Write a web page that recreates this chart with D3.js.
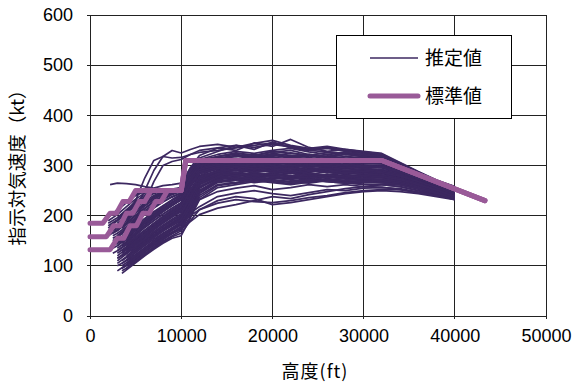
<!DOCTYPE html>
<html>
<head>
<meta charset="utf-8">
<script src="https://cdn.jsdelivr.net/npm/d3@7"></script>
<style>
  body { margin: 0; background: #fff; }
  svg text { fill: #000; }
</style>
</head>
<body>
<svg id="chart" width="576" height="382"></svg>
<script>
// Axis ticks
const altTicks = [0, 10000, 20000, 30000, 40000, 50000];
const ktTicks = [0, 100, 200, 300, 400, 500, 600];

// Titles and legend
const xTitle = "高度(ft)";
const yTitle = "指示対気速度（kt）";
const legendLabels = ["推定値", "標準値"];

// Altitude grid (ft) on which every estimated trace is sampled after its first point
const gridFt = [2000, 3000, 4000, 5000, 6000, 7000, 8000, 9000, 10000, 11000, 12000,
  14000, 16000, 18000, 20000, 22000, 24000, 26000, 28000, 30000,
  32000, 34000, 36000, 38000, 40000];

// First altitude of each estimated trace (ft)
const estStartFt = [1500, 2000, 2000, 2500, 2500, 3000, 3000, 3000, 3500, 3500,
  3500, 4000, 4000, 4500, 2000, 2500, 3000, 3000, 3500, 4000,
  4000, 4500, 2500, 3000, 3500, 4000, 2000, 3000, 3500, 4500,
  3500, 3000, 2200, 3500, 4000, 4500, 3000, 2500, 3000, 4000,
  3500, 4500,
  2000, 2500, 3000, 3000, 3500, 4000, 2000, 2500, 3000, 3500,
  4000, 4500, 3000, 3500, 4000, 2000, 2500, 3500, 2000, 3000,
  4500, 3500, 2500, 4000, 3000, 4000, 3500,
  2500, 3000, 4000, 3500, 2500, 4500, 3000, 4000];

// Estimated IAS (kt): value at the start altitude, then at each following grid altitude
const estKt = [
  [190, 196, 212, 228, 242, 250, 252, 248, 251, 254, 285, 300, 305, 311, 318, 315, 320, 316, 312, 318, 314, 312, 297, 281, 266, 250],
  [175, 190, 206, 222, 236, 246, 250, 248, 252, 278, 296, 305, 300, 308, 311, 306, 309, 304, 307, 305, 303, 290, 276, 262, 247],
  [160, 172, 186, 201, 214, 228, 240, 247, 250, 272, 290, 298, 302, 297, 301, 305, 300, 296, 300, 298, 296, 285, 272, 258, 244],
  [150, 156, 172, 188, 202, 216, 228, 238, 245, 268, 285, 292, 296, 290, 295, 293, 289, 294, 290, 288, 287, 280, 268, 255, 241],
  [135, 140, 155, 170, 184, 197, 210, 222, 232, 262, 280, 288, 284, 291, 287, 285, 290, 286, 283, 287, 284, 276, 265, 252, 238],
  [125, 138, 152, 166, 180, 193, 205, 216, 240, 268, 282, 278, 285, 281, 279, 283, 280, 277, 280, 278, 272, 261, 250, 236],
  [140, 155, 170, 186, 200, 213, 225, 236, 262, 284, 294, 290, 296, 300, 297, 292, 298, 294, 291, 290, 283, 271, 259, 245],
  [110, 124, 138, 151, 165, 178, 190, 200, 225, 258, 272, 276, 270, 274, 278, 273, 270, 275, 272, 270, 266, 257, 247, 235],
  [100, 106, 120, 134, 148, 161, 173, 185, 215, 250, 268, 272, 266, 270, 267, 271, 268, 265, 268, 266, 262, 254, 244, 233],
  [120, 128, 143, 158, 172, 186, 199, 210, 240, 270, 285, 281, 287, 290, 286, 282, 288, 285, 283, 281, 275, 265, 253, 240],
  [90, 95, 112, 128, 143, 156, 167, 178, 205, 240, 262, 266, 271, 268, 264, 269, 272, 268, 270, 268, 264, 256, 246, 236],
  [110, 122, 136, 150, 163, 175, 188, 222, 262, 280, 285, 279, 283, 288, 284, 280, 286, 282, 280, 274, 264, 252, 239],
  [95, 108, 122, 136, 149, 160, 170, 198, 236, 260, 265, 270, 266, 262, 267, 271, 266, 263, 262, 258, 250, 241, 232],
  [125, 130, 145, 160, 174, 186, 198, 232, 270, 290, 294, 288, 292, 296, 291, 295, 290, 293, 290, 282, 270, 257, 243],
  [200, 210, 226, 240, 248, 251, 249, 252, 255, 288, 305, 312, 318, 314, 320, 316, 322, 318, 314, 317, 315, 299, 282, 267, 252],
  [185, 190, 205, 220, 234, 244, 250, 252, 250, 283, 302, 308, 304, 310, 306, 312, 308, 305, 310, 307, 306, 294, 279, 264, 250],
  [170, 185, 200, 215, 228, 240, 248, 252, 280, 298, 303, 299, 305, 301, 297, 303, 300, 296, 300, 298, 289, 275, 261, 246],
  [195, 210, 225, 238, 247, 250, 253, 256, 290, 310, 318, 322, 316, 324, 320, 317, 322, 318, 315, 316, 299, 283, 268, 254],
  [160, 166, 180, 194, 207, 219, 230, 240, 270, 292, 300, 296, 302, 298, 294, 300, 297, 293, 297, 295, 287, 274, 260, 245],
  [150, 165, 180, 194, 208, 221, 233, 265, 288, 296, 292, 298, 295, 291, 296, 293, 290, 294, 292, 285, 272, 259, 244],
  [175, 190, 205, 220, 233, 244, 250, 280, 300, 306, 310, 304, 308, 313, 309, 305, 309, 306, 305, 296, 280, 265, 250],
  [160, 165, 180, 195, 208, 220, 232, 264, 290, 300, 305, 300, 304, 308, 303, 299, 304, 301, 300, 290, 277, 262, 247],
  [145, 150, 163, 176, 190, 203, 215, 226, 236, 266, 286, 296, 300, 294, 298, 302, 297, 301, 296, 299, 297, 288, 275, 261, 246],
  [130, 142, 156, 170, 183, 196, 208, 220, 252, 276, 290, 286, 292, 288, 284, 290, 287, 283, 286, 284, 278, 267, 255, 241],
  [110, 117, 132, 146, 160, 173, 185, 196, 228, 262, 278, 283, 277, 281, 285, 281, 277, 282, 279, 277, 271, 262, 251, 238],
  [120, 134, 148, 162, 175, 187, 198, 232, 270, 286, 291, 287, 293, 290, 286, 291, 288, 285, 284, 278, 268, 256, 242],
  [185, 196, 212, 228, 241, 249, 251, 250, 253, 286, 304, 310, 314, 309, 316, 312, 308, 313, 310, 306, 308, 296, 281, 266, 251],
  [150, 165, 180, 194, 208, 220, 232, 242, 273, 294, 301, 306, 302, 307, 303, 299, 304, 301, 298, 299, 291, 277, 263, 248],
  [140, 147, 161, 176, 190, 203, 215, 226, 258, 284, 294, 290, 296, 292, 288, 294, 291, 287, 291, 289, 282, 270, 257, 243],
  [140, 146, 160, 174, 188, 201, 213, 250, 280, 294, 298, 293, 297, 300, 295, 292, 297, 294, 292, 284, 272, 258, 244],
  [85, 92, 106, 120, 133, 145, 155, 160, 195, 232, 256, 262, 268, 272, 268, 265, 270, 266, 262, 262, 258, 250, 242, 234],
  [100, 110, 122, 135, 147, 158, 166, 172, 205, 245, 268, 274, 270, 276, 272, 268, 274, 270, 267, 266, 262, 253, 244, 234],
  [262, 265, 264, 262, 258, 255, 260, 262, 265, 295, 310, 318, 325, 320, 328, 324, 320, 326, 322, 318, 318, 300, 283, 268, 255],
  [200, 205, 230, 275, 310, 318, 315, 316, 322, 326, 330, 335, 340, 345, 338, 332, 336, 330, 326, 322, 305, 287, 270, 258],
  [190, 215, 250, 290, 318, 330, 325, 332, 338, 342, 336, 344, 350, 340, 334, 338, 332, 328, 324, 306, 288, 271, 258],
  [185, 195, 225, 268, 300, 308, 312, 322, 330, 335, 340, 336, 342, 337, 330, 334, 328, 324, 320, 303, 285, 269, 256],
  [180, 195, 210, 224, 236, 245, 250, 254, 295, 320, 335, 330, 345, 338, 352, 336, 328, 332, 327, 323, 304, 286, 270, 256],
  [170, 175, 190, 206, 220, 233, 244, 251, 255, 290, 315, 328, 340, 332, 347, 335, 330, 327, 324, 322, 318, 302, 284, 268, 253],
  [115, 126, 138, 150, 160, 170, 180, 190, 200, 212, 225, 232, 228, 226, 230, 236, 240, 246, 250, 252, 252, 246, 240, 233],
  [100, 112, 124, 136, 147, 158, 165, 190, 212, 230, 238, 234, 222, 226, 232, 238, 244, 248, 250, 248, 244, 238, 232],
  [105, 112, 126, 140, 153, 165, 176, 186, 205, 218, 238, 245, 250, 244, 240, 246, 252, 250, 255, 256, 254, 247, 240],
  [130, 135, 148, 160, 172, 183, 194, 210, 232, 248, 255, 260, 252, 256, 262, 258, 262, 258, 257, 252, 246, 240, 234],
  [170, 182, 196, 210, 224, 236, 246, 250, 251, 276, 294, 302, 306, 300, 305, 309, 303, 307, 302, 305, 304, 292, 278, 263, 248],
  [160, 165, 178, 193, 207, 220, 232, 242, 249, 274, 292, 300, 296, 303, 307, 301, 298, 303, 299, 296, 297, 288, 274, 260, 245],
  [145, 160, 175, 190, 203, 215, 227, 238, 266, 288, 298, 302, 297, 293, 299, 304, 298, 302, 298, 296, 286, 273, 259, 244],
  [120, 134, 148, 162, 175, 188, 200, 210, 238, 266, 280, 284, 279, 285, 289, 284, 280, 285, 282, 280, 274, 264, 253, 240],
  [130, 136, 150, 165, 178, 191, 203, 214, 246, 276, 288, 292, 286, 290, 285, 291, 295, 289, 286, 286, 279, 268, 256, 242],
  [135, 150, 164, 178, 191, 203, 215, 248, 278, 290, 286, 292, 296, 290, 287, 292, 296, 290, 289, 281, 269, 256, 242],
  [190, 202, 218, 233, 245, 250, 252, 249, 252, 284, 303, 312, 308, 315, 311, 318, 313, 309, 314, 311, 310, 297, 281, 266, 251],
  [175, 180, 195, 210, 225, 238, 247, 251, 253, 285, 305, 315, 320, 316, 322, 317, 313, 319, 315, 312, 312, 298, 282, 267, 252],
  [160, 175, 190, 205, 219, 232, 243, 250, 282, 305, 316, 312, 318, 322, 316, 320, 316, 313, 318, 314, 299, 283, 268, 253],
  [150, 157, 172, 187, 201, 214, 226, 236, 268, 293, 305, 310, 306, 312, 308, 304, 310, 306, 303, 303, 293, 278, 263, 248],
  [140, 155, 170, 184, 197, 210, 222, 258, 286, 298, 303, 308, 302, 306, 300, 305, 301, 298, 298, 288, 275, 261, 246],
  [150, 155, 170, 185, 199, 212, 224, 258, 284, 296, 300, 296, 301, 305, 299, 303, 298, 301, 298, 289, 276, 262, 247],
  [105, 118, 132, 145, 158, 170, 182, 192, 222, 256, 274, 278, 283, 278, 274, 279, 283, 277, 280, 276, 270, 261, 250, 238],
  [95, 102, 117, 132, 146, 159, 171, 182, 212, 248, 270, 266, 272, 276, 271, 267, 273, 270, 266, 268, 263, 255, 245, 235],
  [105, 118, 132, 146, 159, 171, 182, 214, 254, 276, 281, 276, 280, 284, 279, 275, 281, 277, 276, 270, 262, 251, 238],
  [180, 192, 207, 222, 236, 246, 250, 252, 250, 280, 300, 308, 313, 309, 315, 311, 307, 312, 309, 306, 306, 295, 280, 265, 250],
  [165, 170, 185, 200, 214, 227, 239, 248, 251, 280, 300, 310, 306, 312, 308, 314, 310, 306, 311, 308, 306, 295, 280, 265, 250],
  [175, 182, 196, 210, 223, 236, 246, 251, 284, 306, 318, 324, 320, 326, 330, 322, 318, 325, 320, 316, 300, 284, 268, 254],
  [165, 176, 190, 205, 219, 232, 243, 249, 252, 282, 302, 314, 318, 322, 318, 325, 320, 316, 322, 318, 314, 299, 283, 267, 252],
  [135, 148, 162, 177, 190, 203, 215, 226, 258, 284, 296, 300, 306, 301, 297, 303, 299, 296, 300, 297, 288, 275, 260, 246],
  [115, 120, 134, 148, 162, 175, 186, 218, 258, 276, 272, 278, 283, 277, 273, 279, 275, 272, 271, 266, 258, 248, 237],
  [125, 132, 147, 162, 176, 189, 201, 212, 244, 274, 286, 290, 295, 289, 285, 291, 287, 284, 288, 285, 278, 268, 255, 241],
  [155, 160, 174, 188, 202, 215, 227, 237, 245, 272, 292, 302, 298, 304, 300, 296, 302, 306, 300, 297, 298, 289, 276, 262, 247],
  [160, 175, 190, 204, 218, 231, 243, 276, 298, 310, 306, 312, 317, 311, 307, 313, 309, 306, 306, 294, 279, 264, 249],
  [185, 200, 215, 229, 240, 248, 251, 254, 288, 312, 322, 328, 324, 330, 334, 327, 322, 326, 321, 318, 301, 284, 269, 255],
  [130, 144, 158, 172, 185, 197, 208, 240, 272, 288, 284, 278, 284, 280, 276, 282, 278, 275, 276, 270, 261, 250, 238],
  [95, 100, 114, 128, 141, 153, 164, 174, 188, 202, 215, 222, 230, 238, 234, 242, 248, 254, 258, 262, 262, 256, 248, 240],
  [125, 130, 144, 158, 171, 184, 196, 207, 218, 250, 276, 288, 292, 287, 291, 295, 290, 286, 291, 288, 286, 279, 268, 256, 242],
  [115, 128, 142, 155, 168, 181, 193, 204, 232, 262, 278, 274, 280, 284, 279, 275, 280, 277, 274, 273, 268, 259, 249, 237],
  [115, 128, 142, 156, 169, 181, 193, 226, 264, 282, 287, 282, 286, 290, 285, 281, 287, 283, 281, 274, 264, 252, 239],
  [145, 152, 166, 181, 195, 208, 220, 231, 262, 288, 298, 302, 298, 303, 307, 301, 297, 302, 299, 297, 288, 275, 261, 246],
  [140, 145, 158, 172, 186, 199, 211, 222, 232, 262, 284, 294, 298, 293, 297, 301, 296, 300, 295, 298, 296, 287, 274, 260, 245],
  [105, 110, 124, 138, 152, 165, 177, 208, 250, 272, 278, 274, 279, 275, 271, 277, 273, 270, 270, 265, 257, 247, 236],
  [90, 102, 116, 130, 143, 155, 165, 175, 206, 244, 266, 271, 276, 271, 267, 272, 268, 265, 269, 266, 262, 254, 245, 235],
  [125, 139, 153, 167, 180, 192, 203, 236, 268, 284, 280, 286, 282, 278, 284, 281, 277, 280, 278, 272, 262, 251, 238]
];

// Standard speed schedules: altitude (ft) and IAS (kt) at each vertex
const stdAlt = [
  [0, 1400, 2200, 2900, 3600, 4300, 5000, 10000, 10500, 32000, 43300],
  [0, 1800, 2600, 3300, 4000, 4700, 5400, 6000, 6700, 10000, 10500, 32000, 43300],
  [0, 2200, 3000, 3700, 4400, 5100, 5800, 6500, 7200, 7800, 8500, 10000, 10500, 32000, 43300]
];
const stdKt = [
  [185, 185, 205, 205, 228, 228, 250, 250, 310, 310, 230],
  [158, 158, 180, 180, 205, 205, 228, 228, 250, 250, 310, 310, 230],
  [132, 132, 155, 155, 180, 180, 205, 205, 228, 228, 250, 250, 310, 310, 230]
];

const estColor = "#3c2860";
const stdColor = "#995a98";
const numFont = "'Liberation Sans', Arial, sans-serif";
const cjkFont = "'Noto Sans CJK JP', 'Noto Sans', sans-serif";

const svg = d3.select("#chart");
const x = d3.scaleLinear().domain([0, 50000]).range([90, 546]);
const y = d3.scaleLinear().domain([0, 600]).range([316, 15]);

// Grid lines
const grid = svg.append("g").attr("shape-rendering", "crispEdges");
grid.selectAll("line.h").data(ktTicks).join("line")
  .attr("x1", x(0) - 3).attr("x2", x(50000))
  .attr("y1", d => y(d)).attr("y2", d => y(d))
  .attr("stroke", "#222").attr("stroke-width", 1);
grid.selectAll("line.v").data(altTicks).join("line")
  .attr("x1", d => x(d)).attr("x2", d => x(d))
  .attr("y1", y(600)).attr("y2", y(0) + 3)
  .attr("stroke", "#222").attr("stroke-width", 1);

// Axis labels through d3 axes
const yAxis = svg.append("g").attr("transform", `translate(${x(0)},0)`)
  .call(d3.axisLeft(y).tickValues(ktTicks).tickSize(0).tickPadding(17));
yAxis.select(".domain").remove();
yAxis.selectAll("text").attr("font-family", numFont).attr("font-size", 18);

const xAxis = svg.append("g").attr("transform", `translate(0,${y(0)})`)
  .call(d3.axisBottom(x).tickValues(altTicks).tickSize(0).tickPadding(13).tickFormat(d3.format("d")));
xAxis.select(".domain").remove();
xAxis.selectAll("text").attr("font-family", numFont).attr("font-size", 18);

// Estimated traces
const line = d3.line().x(d => x(d[0])).y(d => y(d[1]));
const estTraces = estKt.map((vals, i) => {
  const start = estStartFt[i];
  const after = gridFt.filter(a => a > start);
  return [[start, vals[0]]].concat(vals.slice(1).map((v, j) => [after[j], v]));
});
svg.append("g").selectAll("path").data(estTraces).join("path")
  .attr("d", line)
  .attr("fill", "none")
  .attr("stroke", estColor)
  .attr("stroke-width", 1.7)
  .attr("stroke-linejoin", "round");

// Standard schedules
const stdTraces = stdAlt.map((alts, i) => alts.map((a, j) => [a, stdKt[i][j]]));
svg.append("g").selectAll("path").data(stdTraces).join("path")
  .attr("d", line)
  .attr("fill", "none")
  .attr("stroke", stdColor)
  .attr("stroke-width", 5)
  .attr("stroke-linejoin", "round")
  .attr("stroke-linecap", "round");

// Legend
const lg = svg.append("g");
lg.append("rect").attr("x", 336.5).attr("y", 35.5).attr("width", 175).attr("height", 83)
  .attr("fill", "#fff").attr("stroke", "#000").attr("stroke-width", 1);
const legendStyles = [{ c: estColor, w: 1.5, cap: "butt", yy: 58 }, { c: stdColor, w: 5, cap: "round", yy: 96 }];
legendLabels.forEach((t, i) => {
  const s = legendStyles[i];
  lg.append("line").attr("x1", 370).attr("x2", 418).attr("y1", s.yy).attr("y2", s.yy)
    .attr("stroke", s.c).attr("stroke-width", s.w).attr("stroke-linecap", s.cap);
  lg.append("text").attr("x", 425).attr("y", s.yy).attr("dy", "0.35em")
    .attr("font-family", cjkFont).attr("font-size", 19).text(t);
});

// Axis titles
svg.append("text").attr("x", 315).attr("y", 372).attr("dy", "0.35em")
  .attr("text-anchor", "middle").attr("font-family", cjkFont).attr("font-size", 18)
  .attr("letter-spacing", 1).text(xTitle);
svg.append("text").attr("transform", "translate(18,163) rotate(-90)").attr("dy", "0.35em")
  .attr("text-anchor", "middle").attr("font-family", cjkFont).attr("font-size", 18.5).text(yTitle);
</script>
</body>
</html>
